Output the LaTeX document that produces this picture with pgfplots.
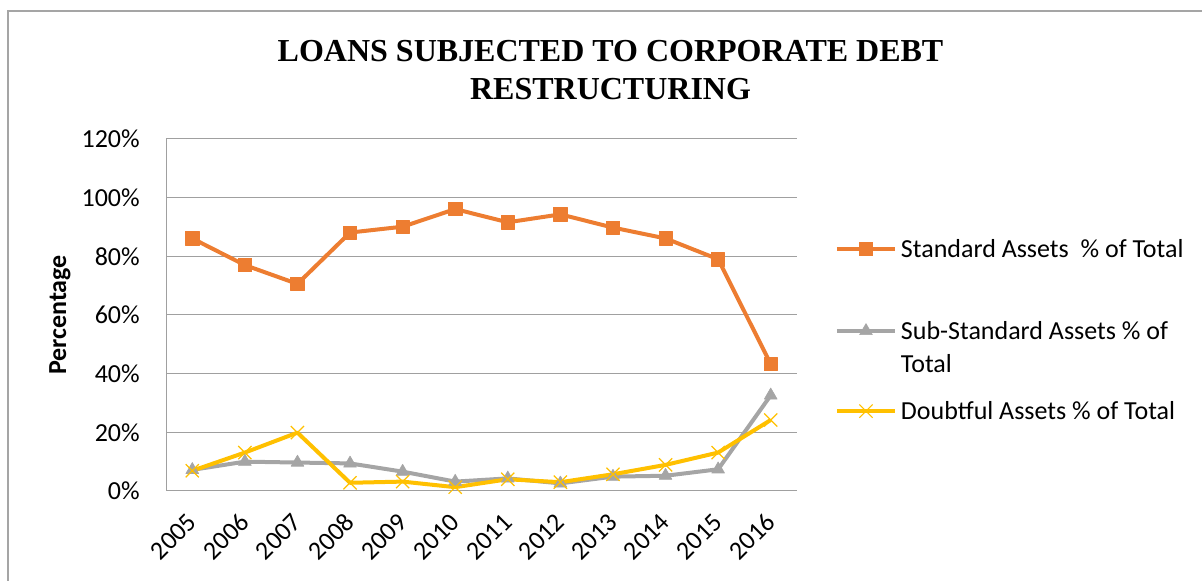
\documentclass[border=0pt]{standalone}
\usepackage{fontspec}
\setmainfont{Carlito}
\newfontfamily\titlefont{Liberation Serif}
\usepackage{pgfplots}
\pgfplotsset{compat=1.18}

\definecolor{stdorange}{HTML}{ED7D31}
\definecolor{subgray}{HTML}{A5A5A5}
\definecolor{dbtyellow}{HTML}{FFC000}
\definecolor{gridgray}{HTML}{A0A0A0}

\begin{document}
\begin{tikzpicture}
\begin{axis}[
  scale only axis,
  width=473.25pt, height=264pt,
  at={(124.5pt,67.5pt)}, anchor=south west,
  xmin=-0.5, xmax=11.5,
  ymin=0, ymax=120,
  xtick={0,...,11},
  xticklabels={2005,2006,2007,2008,2009,2010,2011,2012,2013,2014,2015,2016},
  ytick={0,20,...,120},
  yticklabels={0\%,20\%,40\%,60\%,80\%,100\%,120\%},
  major tick length=0pt,
  axis x line*=bottom, axis y line*=left,
  axis line style={gridgray, line width=0.75pt, -},
  ymajorgrids,
  grid style={gridgray, line width=0.75pt},
  tick label style={font=\fontsize{19.5}{23}\selectfont},
  xticklabel style={inner sep=0pt, xshift=0pt, yshift=-20pt, rotate=45, anchor=east},
  yticklabel style={inner sep=0pt, xshift=-19.5pt},
  ylabel={\textbf{Percentage}},
  ylabel style={at={(axis description cs:-0.168,0.5)}, anchor=center, rotate=0,
    font=\fontsize{19.5}{23}\selectfont},
  clip=false,
  legend cell align=left,
  legend style={draw=none, fill=none, inner sep=0pt, outer sep=0pt,
    row sep=0pt, column sep=3pt,
    nodes={inner sep=0pt, font=\fontsize{19.5}{23}\selectfont},
    at={(rel axis cs:1.0602,0.8735)}, anchor=north west},
  legend image code/.code={
    \draw[mark repeat=2, mark phase=2] plot coordinates {(0pt,0pt) (21.75pt,0pt) (43.5pt,0pt)};
  },
]
\addplot[stdorange, line width=3pt, line join=round, mark=square*,
  mark size=5pt, mark options={solid, fill=stdorange, line width=0.5pt}]
  coordinates {(0,86.1) (1,77.0) (2,70.6) (3,88.1) (4,90.1) (5,96.1)
               (6,91.6) (7,94.3) (8,89.8) (9,86.1) (10,79.0) (11,43.3)};
\addlegendentry[text height=55.4pt, text depth=42.8pt]{Standard Assets\ \ \% of Total}

\addplot[subgray, line width=3pt, line join=round, mark=triangle*,
  mark size=5.5pt, mark options={solid, fill=subgray, line width=0.5pt}]
  coordinates {(0,7.2) (1,10.0) (2,9.7) (3,9.4) (4,6.6) (5,3.2)
               (6,4.3) (7,2.6) (8,4.9) (9,5.2) (10,7.4) (11,32.6)};
\addlegendentry[text height=18.7pt, text depth=6.1pt]{Sub-Standard Assets \% of}

\addlegendimage{empty legend}
\addlegendentry[text height=18.7pt, text depth=6.1pt]{Total}

\addplot[dbtyellow, line width=3pt, line join=round, mark=x,
  mark size=7pt, mark options={solid, line width=0.9pt}]
  coordinates {(0,6.9) (1,13.1) (2,19.9) (3,2.8) (4,3.2) (5,1.3)
               (6,4.0) (7,3.0) (8,5.7) (9,8.9) (10,13.1) (11,24.2)};
\addlegendentry[text height=29.2pt, text depth=16.6pt]{Doubtful Assets \% of Total}
\end{axis}

\node[anchor=base, font=\titlefont\bfseries\fontsize{24}{28}\selectfont]
  at (457.9pt,389.25pt) {LOANS SUBJECTED TO CORPORATE DEBT};
\node[anchor=base, font=\titlefont\bfseries\fontsize{24}{28}\selectfont]
  at (457.9pt,360.75pt) {RESTRUCTURING};

\draw[subgray, line width=1.5pt] (6pt,0pt) -- (6pt,427.3pt) -- (901.5pt,427.3pt);

\pgfresetboundingbox
\useasboundingbox (0pt,0pt) rectangle (901.5pt,435.75pt);
\end{tikzpicture}
\end{document}
